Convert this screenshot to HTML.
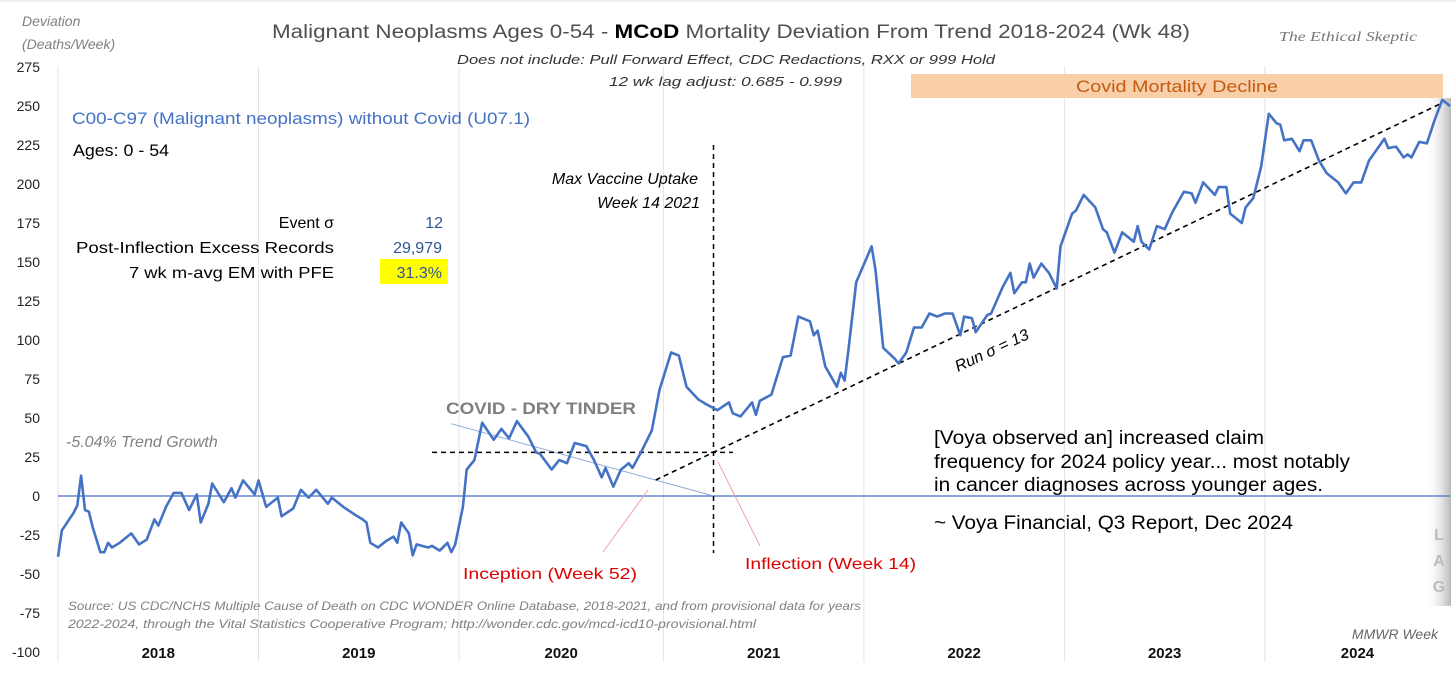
<!DOCTYPE html>
<html><head><meta charset="utf-8"><style>
html,body{margin:0;padding:0;background:#fff;}
svg{display:block;font-family:"Liberation Sans",sans-serif;}
</style></head><body>
<svg id="chart" width="1456" height="674" viewBox="0 0 1456 674" xmlns="http://www.w3.org/2000/svg">
<defs>
<linearGradient id="lagg" x1="0" x2="1" y1="0" y2="0"><stop offset="0" stop-color="#fff" stop-opacity="0"/><stop offset="1" stop-color="#b8b8b8"/></linearGradient>
</defs>
<rect x="0" y="0" width="1456" height="674" fill="#fff"/>
<line x1="0" y1="1" x2="1456" y2="1" stroke="#ddd"/>
<g id="grid"></g>
<rect x="911" y="74" width="532" height="24" fill="#f8cfa8"/>
<text x="1177" y="92" font-size="17" fill="#c55a11" text-anchor="middle" textLength="202" lengthAdjust="spacingAndGlyphs">Covid Mortality Decline</text>
<rect x="1425" y="98" width="26" height="508" fill="url(#lagg)"/>
<text x="1439" y="540" font-size="16" font-weight="bold" fill="#bbb" text-anchor="middle">L</text>
<text x="1439" y="566" font-size="16" font-weight="bold" fill="#bbb" text-anchor="middle">A</text>
<text x="1439" y="592" font-size="16" font-weight="bold" fill="#bbb" text-anchor="middle">G</text>
<g id="yaxis"></g>
<g id="xaxis"></g>
<g id="marks"></g>

<text x="22" y="26" font-size="14" font-style="italic" fill="#808080">Deviation</text>
<text x="22" y="49" font-size="14" font-style="italic" fill="#808080">(Deaths/Week)</text>
<text x="272" y="38" font-size="19" fill="#505050" textLength="918" lengthAdjust="spacingAndGlyphs">Malignant Neoplasms Ages 0-54 - <tspan font-weight="bold" fill="#000">MCoD</tspan> Mortality Deviation From Trend  2018-2024 (Wk 48)</text>
<text x="457" y="64" font-size="13" font-style="italic" fill="#333" textLength="538" lengthAdjust="spacingAndGlyphs">Does not include: Pull Forward Effect,  CDC Redactions, RXX or 999 Hold</text>
<text x="609" y="86" font-size="13" font-style="italic" fill="#333" textLength="233" lengthAdjust="spacingAndGlyphs">12 wk lag adjust: 0.685 - 0.999</text>
<text x="1279" y="41" font-size="14" font-style="italic" fill="#777" font-family="Liberation Serif,serif" textLength="138" lengthAdjust="spacingAndGlyphs">The Ethical Skeptic</text>

<text x="72" y="124" font-size="17" fill="#4472c4" textLength="458" lengthAdjust="spacingAndGlyphs">C00-C97 (Malignant neoplasms) without Covid (U07.1)</text>
<text x="73" y="156" font-size="17" fill="#000" textLength="96" lengthAdjust="spacingAndGlyphs">Ages: 0 - 54</text>
<text x="334" y="228" font-size="16" text-anchor="end" fill="#000">Event σ</text>
<text x="334" y="253" font-size="16" text-anchor="end" fill="#000" textLength="258" lengthAdjust="spacingAndGlyphs">Post-Inflection Excess Records</text>
<text x="334" y="278" font-size="16" text-anchor="end" fill="#000" textLength="205" lengthAdjust="spacingAndGlyphs">7 wk m-avg EM  with PFE</text>
<text x="443" y="228" font-size="16" text-anchor="end" fill="#2f5597">12</text>
<text x="442" y="253" font-size="16" text-anchor="end" fill="#2f5597">29,979</text>
<rect x="380" y="259" width="68" height="25" fill="#ffff00"/>
<text x="442" y="278" font-size="16" text-anchor="end" fill="#2f5597">31.3%</text>

<text x="698" y="184" font-size="16" font-style="italic" text-anchor="end" fill="#000">Max Vaccine Uptake</text>
<text x="700" y="208" font-size="16" font-style="italic" text-anchor="end" fill="#000">Week 14 2021</text>
<text x="446" y="414" font-size="17" font-weight="bold" fill="#808080" textLength="190" lengthAdjust="spacingAndGlyphs">COVID - DRY TINDER</text>
<text x="66" y="447" font-size="16" font-style="italic" fill="#808080">-5.04% Trend Growth</text>
<text x="0" y="0" font-size="16" font-style="italic" fill="#000" transform="translate(958,372) rotate(-25)">Run σ = 13</text>
<text x="463" y="579" font-size="16" fill="#e00000" textLength="174" lengthAdjust="spacingAndGlyphs">Inception (Week 52)</text>
<text x="745" y="569" font-size="16" fill="#e00000" textLength="171" lengthAdjust="spacingAndGlyphs">Inflection (Week 14)</text>

<text x="934" y="444" font-size="19" fill="#000" textLength="330" lengthAdjust="spacingAndGlyphs">[Voya observed an] increased claim</text>
<text x="934" y="468" font-size="19" fill="#000" textLength="416" lengthAdjust="spacingAndGlyphs">frequency for 2024 policy year... most notably</text>
<text x="934" y="491" font-size="19" fill="#000" textLength="389" lengthAdjust="spacingAndGlyphs">in cancer diagnoses across younger ages.</text>
<text x="934" y="529" font-size="19" fill="#000" textLength="359" lengthAdjust="spacingAndGlyphs">~ Voya Financial, Q3 Report, Dec 2024</text>

<text x="68" y="610" font-size="12" font-style="italic" fill="#808080" textLength="793" lengthAdjust="spacingAndGlyphs">Source: US CDC/NCHS Multiple Cause of Death on CDC WONDER Online Database, 2018-2021, and from provisional data for years</text>
<text x="68" y="628" font-size="12" font-style="italic" fill="#808080" textLength="688" lengthAdjust="spacingAndGlyphs">2022-2024, through the Vital Statistics Cooperative Program; http://wonder.cdc.gov/mcd-icd10-provisional.html</text>
<text x="1438" y="639" font-size="14" font-style="italic" text-anchor="end" fill="#666">MMWR Week</text>
</svg>
<script>
const yTicks = [275,250,225,200,175,150,125,100,75,50,25,0,-25,-50,-75,-100];
const years = ["2018","2019","2020","2021","2022","2023","2024"];
const yearWeeks = [52,52,53,52,52,52,48];
const weeks = [0,1,4,5,6,7,8,9,11,12,13,14,16,19,21,23,25,26,28,30,32,34,36,37,39,40,43,45,46,48,51,52,54,57,58,61,63,65,67,70,71,74,77,79,80,81,83,85,87,88,89,91,92,93,96,97,99,101,102,103,105,106,108,110,113,115,117,119,122,124,125,128,130,132,134,137,139,141,142,144,146,148,149,151,154,156,159,161,163,166,168,171,174,175,177,180,181,182,185,188,190,192,195,196,197,199,202,203,204,205,207,211,212,214,217,218,220,222,224,226,228,230,232,234,235,237,238,241,242,245,247,248,250,251,252,253,255,257,259,260,263,264,266,269,271,272,274,276,279,280,281,283,285,287,289,292,294,295,297,300,301,303,304,307,308,310,312,314,316,317,318,320,322,323,325,327,329,332,334,336,338,340,344,345,347,349,350,351,353,355,357,359,361];
const values = [-39,-22,-11,-6,13,-9,-10,-20,-36,-36,-30,-33,-30,-24,-31,-28,-15,-19,-7,2,2,-9,1,-17,-5,8,-4,5,-1,10,1,10,-7,-1,-13,-8,4,-1,4,-5,-1,-7,-12,-15,-17,-30,-33,-29,-26,-30,-17,-24,-38,-31,-33,-32,-35,-30,-36,-31,-7,17,23,47,36,43,37,48,38,28,27,17,23,21,34,32,23,12,18,6,17,21,18,27,42,68,92,90,70,62,59,55,60,53,51,60,52,61,65,89,90,115,112,103,106,83,70,79,74,94,137,160,145,95,88,85,92,108,108,117,115,117,117,103,115,114,105,116,117,134,143,130,137,137,149,140,149,143,133,160,181,183,193,185,171,169,156,169,163,173,163,158,173,171,182,195,194,188,201,193,198,198,181,175,185,191,211,245,239,238,228,229,221,228,228,215,207,201,194,201,201,215,229,223,224,217,219,217,227,226,241,254,250];
const trendStart = [170, 28];
const trendEnd = [359, 252];
const tinderStart = [103, 47];
const tinderEnd = [170, 0];

const NS = "http://www.w3.org/2000/svg";
const X0 = 58, X1 = 1450, Y0 = 496, PPU = 1.56;
const totalWeeks = yearWeeks.reduce((a,b)=>a+b,0);
const xs = w => X0 + w * (X1 - X0) / totalWeeks;
const ys = v => Y0 - v * PPU;
function mk(tag, attrs, parent){ const e=document.createElementNS(NS,tag); for(const k in attrs) e.setAttribute(k,attrs[k]); parent.appendChild(e); return e; }

const yax = document.getElementById('yaxis');
yTicks.forEach(t => {
  const e = mk('text',{x:40,y:ys(t)+5,'font-size':14,'text-anchor':'end',fill:'#222'},yax);
  
  
  e.textContent = t;
});
const grid = document.getElementById('grid');
const xax = document.getElementById('xaxis');
let acc = 0;
years.forEach((y,i) => {
  const gl = mk('line',{x1:xs(acc),x2:xs(acc),y1:66,y2:662,stroke:'#e3e3e3','stroke-width':1},grid);
  
  
  const t = mk('text',{x:xs(acc+yearWeeks[i]/2),y:658,'font-size':15,'font-weight':'bold','text-anchor':'middle',fill:'#111'},xax);
  
  
  t.textContent = y;
  acc += yearWeeks[i];
});

const m = document.getElementById('marks');
const zl = mk('line',{x1:X0,x2:X1,y1:ys(0),y2:ys(0),stroke:'#4472c4','stroke-width':1.2},m);


const tl = mk('line',{x1:xs(tinderStart[0])-4,y1:ys(tinderStart[1])+1,x2:xs(tinderEnd[0]),y2:ys(tinderEnd[1]),stroke:'#8eaadb','stroke-width':1},m);


const hl = mk('line',{x1:432,x2:733,y1:ys(trendStart[1]),y2:ys(trendStart[1]),stroke:'#000','stroke-width':1.5,'stroke-dasharray':'5,4'},m);


const vl = mk('line',{x1:xs(trendStart[0]),x2:xs(trendStart[0]),y1:145,y2:553,stroke:'#000','stroke-width':1.5,'stroke-dasharray':'5,4'},m);


const r1 = mk('line',{x1:603,y1:552,x2:648,y2:490,stroke:'#f4a0a0','stroke-width':1},m);


const r2 = mk('line',{x1:718,y1:462,x2:760,y2:546,stroke:'#f4a0a0','stroke-width':1},m);


const slope = (trendEnd[1]-trendStart[1])/(trendEnd[0]-trendStart[0]);
const ws = 155;
const rl = mk('line',{x1:xs(ws),y1:ys(trendStart[1]+slope*(ws-trendStart[0])),x2:xs(trendEnd[0]),y2:ys(trendEnd[1]),stroke:'#000','stroke-width':1.6,'stroke-dasharray':'5,4'},m);


const d = weeks.map((w,i)=>(i?'L':'M')+xs(w).toFixed(1)+','+ys(values[i]).toFixed(1)).join(' ');
const p = mk('path',{d:d,fill:'none',stroke:'#4472c4','stroke-width':2.6,'stroke-linejoin':'round'},m);


</script>
</body></html>
